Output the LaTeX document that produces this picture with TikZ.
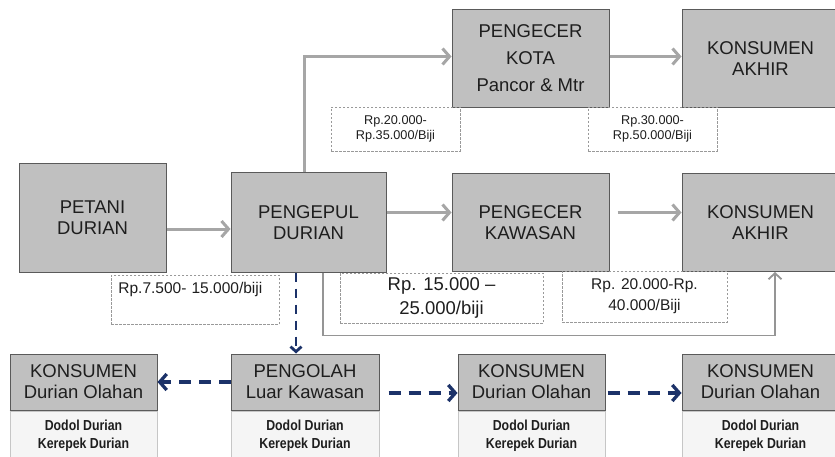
\documentclass[tikz,border=0pt]{standalone}
\usepackage{fontspec}
\setmainfont{Liberation Sans}
\newfontfamily\sempit[FakeStretch=0.85]{Liberation Sans}
\usetikzlibrary{positioning,arrows.meta}

\definecolor{boxgray}{RGB}{192,192,192}
\definecolor{edgegray}{RGB}{90,90,90}
\definecolor{flowgray}{RGB}{166,166,166}
\definecolor{olahblue}{RGB}{28,50,105}
\definecolor{inkgray}{RGB}{30,30,30}

\tikzset{
  actor/.style={draw=edgegray, line width=1pt, fill=boxgray, text=inkgray,
    minimum width=157pt, minimum height=98pt, align=center,
    font=\fontsize{18.5}{21}\selectfont},
  head/.style={draw=edgegray, line width=1pt, fill=boxgray, text=inkgray,
    minimum width=148pt, minimum height=56pt, align=center, inner sep=0pt,
    font=\fontsize{18.5}{21}\selectfont},
  isi/.style={draw=gray!45, line width=0.8pt, fill=gray!8, text=inkgray,
    minimum height=50pt, align=center, inner sep=0pt,
    font=\sempit\bfseries\fontsize{14.5}{18}\selectfont},
  harga/.style={draw=gray!80, line width=0.8pt, dash pattern=on 2.5pt off 1.5pt,
    text=inkgray, align=center, inner sep=0pt},
  flow/.style={draw=flowgray, line width=3pt,
    -{Straight Barb[length=7pt,width=16pt]}},
  balik/.style={draw=flowgray!90!black, line width=1.8pt,
    -{Straight Barb[length=6pt,width=13pt]}},
  olahv/.style={draw=olahblue, line width=2.8pt, dash pattern=on 9pt off 7pt,
    -{Straight Barb[length=5pt,width=11pt]}},
  olahh/.style={draw=olahblue, line width=3.3pt, dash pattern=on 12pt off 8pt,
    -{Straight Barb[length=7pt,width=16pt]}}
}

\begin{document}
\begin{tikzpicture}[x=1pt, y=-1pt]
    \useasboundingbox (0,0) rectangle (835,457);

    % rantai utama
    \node (petani) [actor, minimum width=147pt, minimum height=108pt] at (92.5,218) {PETANI\\DURIAN};
    \node (pengepul) [actor, minimum width=155pt, minimum height=99pt, right=64pt of petani, yshift=-4.5pt] {PENGEPUL\\DURIAN};
    \node (kawasan) [actor, right=65pt of pengepul] {PENGECER\\KAWASAN};
    \node (akhirb) [actor, right=72pt of kawasan] {KONSUMEN\\AKHIR};
    \node (kota) [actor, above=65pt of kawasan, font=\fontsize{18.5}{27}\selectfont] {PENGECER\\KOTA\\Pancor \& Mtr};
    \node (akhira) [actor, right=72pt of kota] {KONSUMEN\\AKHIR};

    % olahan
    \node (pengolah) [head, below=81pt of pengepul, xshift=-3.5pt] {PENGOLAH\\Luar Kawasan};
    \node (olahkiri) [head, minimum width=147pt, left=73pt of pengolah] {KONSUMEN\\Durian Olahan};
    \node (olahtengah) [head, minimum width=147pt, right=78pt of pengolah] {KONSUMEN\\Durian Olahan};
    \node (olahkanan) [head, minimum width=157pt, right=76pt of olahtengah] {KONSUMEN\\Durian Olahan};
    \foreach \n/\w in {olahkiri/147,pengolah/148,olahtengah/147,olahkanan/157} {
        \node (\n-isi) [isi, minimum width=\w pt, anchor=north] at (\n.south) {Dodol Durian\\Kerepek Durian};
        \draw[edgegray, line width=1pt] (\n.south west) -- (\n.south east);
    }

    % harga
    \node (harga1) [harga, anchor=north west, text width=154pt, align=left, inner xsep=7pt,
        text height=18pt, text depth=31pt, font=\fontsize{15.5}{18}\selectfont] at (111,275) {Rp.7.500- 15.000/biji};
    \node (harga2) [harga, minimum width=129pt, minimum height=44pt, font=\fontsize{12.7}{15}\selectfont] at (395.5,129) {Rp.20.000-\\Rp.35.000/Biji};
    \node (harga3) [harga, minimum width=129pt, minimum height=44pt, font=\fontsize{12.7}{15}\selectfont] at (652.5,129) {Rp.30.000-\\Rp.50.000/Biji};
    \node (harga4) [harga, minimum width=203pt, minimum height=50pt, font=\fontsize{18.5}{24}\selectfont] at (441.5,298) {Rp. 15.000 --\\25.000/biji};
    \node (harga5) [harga, minimum width=165pt, minimum height=51pt, font=\fontsize{15.5}{21}\selectfont] at (644.5,296.5) {Rp. 20.000-Rp.\\40.000/Biji};

    % alur
    \draw[flow] ([yshift=-11pt]petani.east) -- ([yshift=-11pt]petani.east -| pengepul.west);
    \draw[flow] ([yshift=10pt]pengepul.east) -- ([yshift=10pt]pengepul.east -| kawasan.west);
    \draw[flow] ([xshift=8pt,yshift=10pt]kawasan.east) -- ([yshift=10pt]kawasan.east -| akhirb.west);
    \draw[flow] ([xshift=-4.5pt]pengepul.north) |- ([yshift=2pt]kota.west);
    \draw[flow] ([yshift=2pt]kota.east) -- ([yshift=2pt]kota.east -| akhira.west);
    \draw[balik] ([xshift=14.5pt]pengepul.south) -- ++(0,63) -| ([xshift=14.5pt]akhirb.south);

    \draw[olahv] ([xshift=-12.5pt]pengepul.south) -- ([xshift=-12.5pt]pengepul.south |- pengolah.north);
    \draw[olahh] (pengolah.west) -- (olahkiri.east);
    \draw[olahh] ([xshift=9pt,yshift=-11pt]pengolah.east) -- ([yshift=-11pt]pengolah.east -| olahtengah.west);
    \draw[olahh] ([xshift=2pt,yshift=-11pt]olahtengah.east) -- ([yshift=-11pt]olahtengah.east -| olahkanan.west);
\end{tikzpicture}
\end{document}
